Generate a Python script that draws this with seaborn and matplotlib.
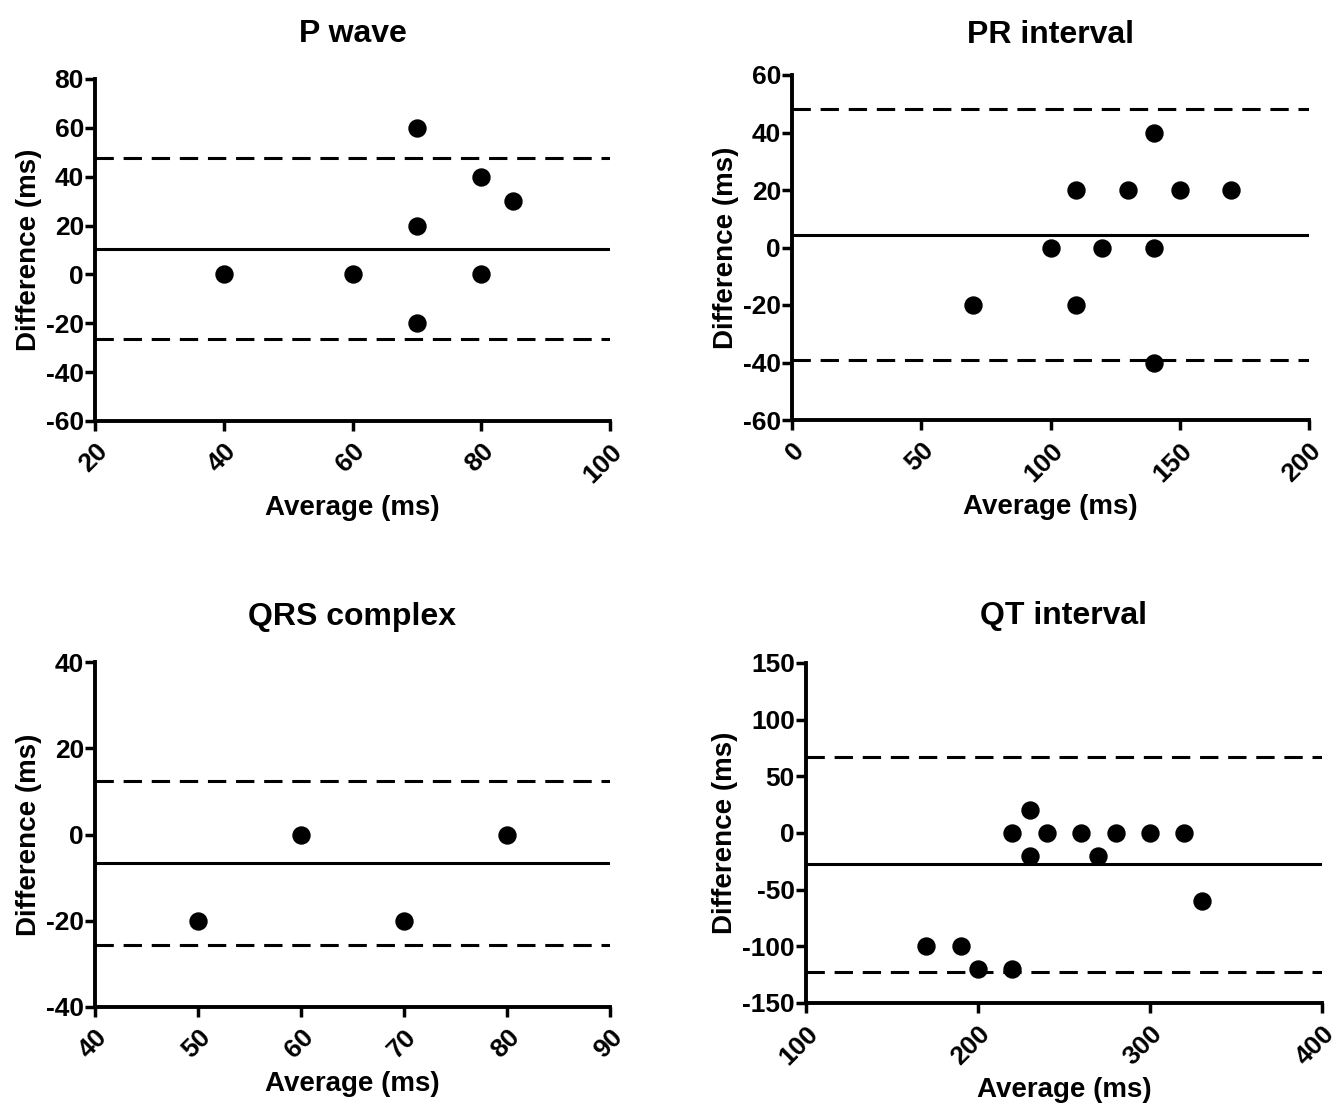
# Bland-Altman plots for the four ECG measurements

import matplotlib
matplotlib.use("Agg")
import matplotlib.pyplot as plt
import pandas as pd
import seaborn as sns

# P wave
p_avg = [40, 60, 70, 70, 70, 80, 80, 85]
p_diff = [0, 0, 60, 20, -20, 40, 0, 30]
p_lines = [10.6, 47.8, -26.5]  # bias, upper, lower

# PR interval
pr_avg = [70, 100, 110, 110, 120, 130, 140, 140, 140, 150, 170]
pr_diff = [-20, 0, 20, -20, 0, 20, 40, 0, -40, 20, 20]
pr_lines = [4.5, 48.2, -39.2]

# QRS complex
qrs_avg = [50, 60, 70, 80]
qrs_diff = [-20, 0, -20, 0]
qrs_lines = [-6.5, 12.3, -25.6]

# QT interval
qt_avg = [170, 190, 200, 220, 220, 230, 230, 240, 260, 270, 280, 300, 320, 330]
qt_diff = [-100, -100, -120, -120, 0, 20, -20, 0, 0, -20, 0, 0, 0, -60]
qt_lines = [-27, 67.5, -123]

titles = ['P wave', 'PR interval', 'QRS complex', 'QT interval']
xticks = [[20, 40, 60, 80, 100], [0, 50, 100, 150, 200],
          [40, 50, 60, 70, 80, 90], [100, 200, 300, 400]]
yticks = [[-60, -40, -20, 0, 20, 40, 60, 80], [-60, -40, -20, 0, 20, 40, 60],
          [-40, -20, 0, 20, 40], [-150, -100, -50, 0, 50, 100, 150]]

sns.set_style("ticks", {'axes.edgecolor': 'black', 'text.color': 'black',
                        'axes.labelcolor': 'black', 'xtick.color': 'black',
                        'ytick.color': 'black'})
plt.rcParams['font.family'] = ['Liberation Sans', 'DejaVu Sans']
plt.rcParams['font.weight'] = 'bold'

W, H = 1341, 1105
fig = plt.figure(figsize=(W / 100, H / 100), dpi=100)

# axes boxes in pixels: left, right, top, bottom
boxes = [(95, 610, 79, 421), (792, 1309, 75, 420),
         (95, 610, 662, 1007), (806, 1322, 663, 1003)]
title_pads = [27, 23, 27, 28]

series = [(p_avg, p_diff, p_lines), (pr_avg, pr_diff, pr_lines),
          (qrs_avg, qrs_diff, qrs_lines), (qt_avg, qt_diff, qt_lines)]

dash = (0, (6, 3.2))

for i, (avg, diff, lines) in enumerate(series):
    l, r, t, b = boxes[i]
    ax = fig.add_axes([l / W, 1 - b / H, (r - l) / W, (b - t) / H])
    df = pd.DataFrame({'avg': avg, 'diff': diff})
    sns.scatterplot(data=df, x='avg', y='diff', ax=ax, color='black',
                    s=150, edgecolor='black', zorder=3)
    ax.axhline(lines[0], color='black', lw=2.2, zorder=2)
    ax.axhline(lines[1], color='black', lw=2.2, ls=dash, zorder=2)
    ax.axhline(lines[2], color='black', lw=2.2, ls=dash, zorder=2)

    ax.set_xlim(xticks[i][0], xticks[i][-1])
    ax.set_ylim(yticks[i][0], yticks[i][-1])
    ax.set_xticks(xticks[i])
    ax.set_yticks(yticks[i])
    ax.set_xticklabels([str(v) for v in xticks[i]], rotation=45,
                       ha='right', rotation_mode='anchor', fontsize=19,
                       fontweight='bold')
    ax.set_yticklabels([str(v) for v in yticks[i]], fontsize=19,
                       fontweight='bold')
    ax.tick_params(axis='both', width=2.5, length=7, pad=1, color='black',
                   labelcolor='black')
    ax.tick_params(axis='x', pad=6)
    for side in ['left', 'bottom']:
        ax.spines[side].set_linewidth(2.8)
        ax.spines[side].set_color('black')
    sns.despine(ax=ax)
    ax.set_title(titles[i], fontsize=23, fontweight='bold',
                 pad=title_pads[i], color='black')
    ax.set_xlabel('Average (ms)', fontsize=20, fontweight='bold', labelpad=6,
                  color='black')
    ax.set_ylabel('Difference (ms)', fontsize=20, fontweight='bold',
                  labelpad=3, color='black')

fig.savefig('out.png', dpi=100, facecolor='white')
